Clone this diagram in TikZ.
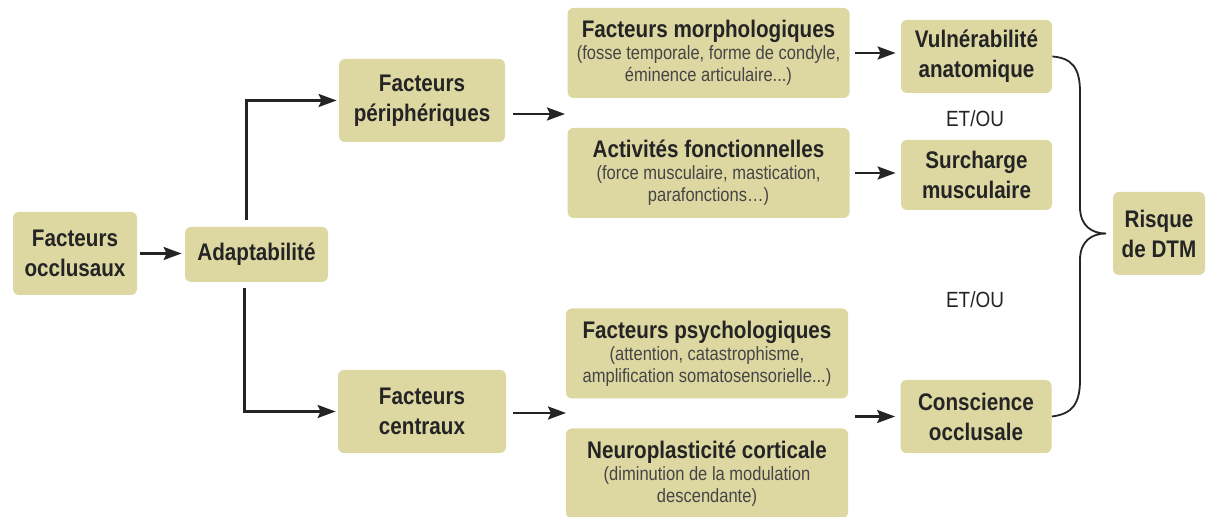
\documentclass[tikz,border=0pt]{standalone}
\usepackage{fontspec}
\setmainfont{Liberation Sans}[FakeStretch=0.86]
\usetikzlibrary{arrows.meta}
\definecolor{boxfill}{RGB}{221,215,162}
\definecolor{ink}{RGB}{36,36,36}
\newcommand\detfont{\mdseries\fontsize{9.6}{11}\selectfont\color{ink!85}}

\begin{document}
\begin{tikzpicture}[x=0.5pt, y=0.5pt,
    box/.style={fill=boxfill, rounded corners=3pt, inner sep=0pt, align=center, text=ink,
        font=\bfseries\fontsize{12}{15}\selectfont},
    widebox/.style={box, align=flush center, text width=141pt, minimum height=45pt},
    smallbox/.style={box, minimum width=75.5pt, minimum height=36.5pt},
    link/.style={-{Stealth[length=9pt,width=6.5pt,inset=1.5pt]}, line width=1.2pt, draw=ink},
    andor/.style={text=ink, font=\fontsize{11}{13}\selectfont}]
    \useasboundingbox (0,0) rectangle (1207,-517);
    \node[box, minimum width=62pt, minimum height=41.5pt] (occl) at (75,-253.5) {Facteurs\\occlusaux};
    \node[box, minimum width=71.5pt, minimum height=27.5pt] (adapt) at (256.5,-254.5) {Adaptabilité};
    \node[box, minimum width=83pt, minimum height=41.5pt] (periph) at (422,-100.5) {Facteurs\\périphériques};
    \node[box, minimum width=84pt, minimum height=41.5pt] (centr) at (422,-411.5) {Facteurs\\centraux};
    \node[widebox] (morph) at (708.5,-53) {Facteurs morphologiques\par
        {\detfont (fosse temporale, forme de condyle,\\ éminence articulaire...)\par}};
    \node[widebox] (activ) at (708.5,-173) {Activités fonctionnelles\par
        {\detfont (force musculaire, mastication,\\ parafonctions\dots)\par}};
    \node[widebox] (psych) at (707,-353.5) {Facteurs psychologiques\par
        {\detfont (attention, catastrophisme,\\ amplification somatosensorielle...)\par}};
    \node[widebox] (neuro) at (707,-473.5) {Neuroplasticité corticale\par
        {\detfont (diminution de la modulation\\ descendante)\par}};
    \node[smallbox] (vuln) at (976.5,-56.5) {Vulnérabilité\\anatomique};
    \node[smallbox, minimum height=35pt] (surch) at (976.5,-175) {Surcharge\\musculaire};
    \node[smallbox] (consc) at (976,-416.5) {Conscience\\occlusale};
    \node[box, minimum width=46pt, minimum height=41.5pt] (risk) at (1159,-233.5) {Risque\\de DTM};
    \node[andor] (eo1) at (975,-119) {ET/OU};
    \node[andor] (eo2) at (975,-300) {ET/OU};
    % connectors
    \coordinate (pgap) at (565,-114);
    \coordinate (cgap) at (566,-413);
    \coordinate (pout) at (855,-416.5);
    \coordinate (brtip) at (1106,-233.5);
    \draw[link, shorten <=1.5pt, shorten >=1.5pt] (occl.east) -- (occl.east -| adapt.west);
    \draw[link, shorten <=3.5pt, shorten >=1pt] ([xshift=-5pt]adapt.north) |- (periph.west);
    \draw[link, shorten <=3pt, shorten >=1pt] ([xshift=-6pt]adapt.south) |- (centr.west);
    \draw[link, shorten <=4pt] (periph.east |- pgap) -- (pgap);
    \draw[link, shorten <=3.5pt] (centr.east |- cgap) -- (cgap);
    \draw[link, shorten <=2.5pt, shorten >=2.5pt] (morph.east) -- (morph.east -| vuln.west);
    \draw[link, shorten <=2.5pt, shorten >=2.5pt] (activ.east) -- (activ.east -| surch.west);
    \draw[link, shorten >=2.5pt] (pout) -- (consc.west);
    \draw[line width=0.9pt, draw=ink] (vuln.east) .. controls (1072,-58) and (1080,-68) .. (1080,-92)
        -- (1080,-207) .. controls (1080,-226) and (1092,-233.5) .. (brtip)
        .. controls (1092,-233.5) and (1080,-241) .. (1080,-260)
        -- (1080,-380) .. controls (1080,-404) and (1072,-414) .. (consc.east);
\end{tikzpicture}
\end{document}
